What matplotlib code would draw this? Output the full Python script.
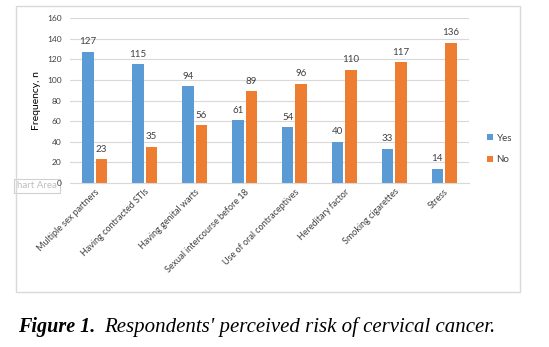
import matplotlib.pyplot as plt
from matplotlib.patches import Rectangle
import numpy as np

categories = ["Multiple sex partners", "Having contracted STIs", "Having genital warts",
              "Sexual intercourse before 18", "Use of oral contraceptives",
              "Hereditary factor", "Smoking cigarettes", "Stress"]
yes_vals = [127, 115, 94, 61, 54, 40, 33, 14]
no_vals = [23, 35, 56, 89, 96, 110, 117, 136]
y_ticks = [0, 20, 40, 60, 80, 100, 120, 140, 160]

blue = "#5B9BD5"
orange = "#ED7D31"
txt = "#404040"

plt.rcParams['font.family'] = ['Lato', 'DejaVu Sans']

fig = plt.figure(figsize=(5.49, 3.47), dpi=100)
# chart area frame
fig.patches.append(Rectangle((16/549, 1-292/347), (520-16)/549, (292-6)/347,
                             transform=fig.transFigure, fill=False,
                             edgecolor="#D9D9D9", linewidth=1))

ax = fig.add_axes([70/549, 1-183/347, 399/549, 165/347])
x = np.arange(len(categories))
w = 0.23
b1 = ax.bar(x - 0.135, yes_vals, w, color=blue, label="Yes")
b2 = ax.bar(x + 0.135, no_vals, w, color=orange, label="No")
ax.bar_label(b1, padding=4, fontsize=7, color=txt)
ax.bar_label(b2, padding=4, fontsize=7, color=txt)

ax.set_xlim(-0.5, len(categories) - 0.5)
ax.set_ylim(0, 160)
ax.set_yticks(y_ticks)
ax.tick_params(axis='y', length=0, labelsize=6, labelcolor=txt, pad=6)
ax.tick_params(axis='x', length=0, labelsize=6.5, labelcolor=txt, pad=3)
ax.set_xticks(x)
ax.set_xticklabels(categories, rotation=45, ha='right', rotation_mode='anchor')
ax.grid(axis='y', color="#D9D9D9", linewidth=0.8)
ax.set_axisbelow(True)
for s in ["top", "right", "left"]:
    ax.spines[s].set_visible(False)
ax.spines["bottom"].set_color("#D9D9D9")
ax.set_ylabel("Frequency, n", fontsize=7.5, color="black", labelpad=4)

fig.legend(handles=[b1, b2], labels=["Yes", "No"], loc="center left",
           bbox_to_anchor=(478/549, 1-149/347), frameon=False, fontsize=7,
           handlelength=0.6, handleheight=0.6, handletextpad=0.4,
           labelspacing=1.3, labelcolor=txt)

# leftover tooltip in the source screenshot
fig.text(17/549, 1-186/347, "hart Area", fontsize=7, color="#BFBFBF", va="center",
         zorder=-1,
         bbox=dict(boxstyle="square,pad=0.3", facecolor="white", edgecolor="#D0D0D0", linewidth=0.8))

fig.text(18/549, 1-327/347, "Figure 1.", fontsize=14.5, family="Liberation Serif",
         style="italic", weight="bold", va="center")
fig.text(104/549, 1-327/347, "Respondents' perceived risk of cervical cancer.", fontsize=15,
         family="Liberation Serif", style="italic", va="center")

plt.savefig("out.png", dpi=100)
